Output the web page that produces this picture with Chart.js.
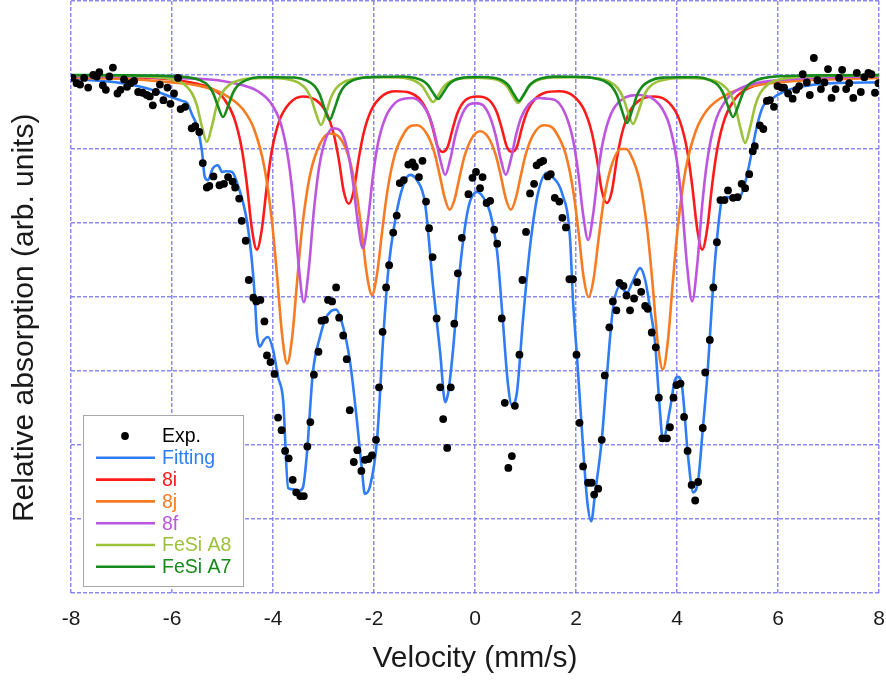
<!DOCTYPE html>
<html>
<head>
<meta charset="utf-8">
<script src="https://cdn.jsdelivr.net/npm/chart.js@4/dist/chart.umd.min.js"></script>
<style>
  html, body { margin: 0; padding: 0; background: #ffffff; }
  canvas { display: block; }
</style>
</head>
<body>
<canvas id="spectrum" width="886" height="682"></canvas>
<script>
// Mössbauer spectrum: velocity (mm/s) vs. relative absorption (%), with sub-spectra.
const velocityTicks = [-8, -6, -4, -2, 0, 2, 4, 6, 8];

// Measured spectrum [velocity, absorption]
const exp = [
  [-7.97,0.04],[-7.89,0.11],[-7.82,0.13],[-7.74,0.04],[-7.66,0.17],[-7.56,0.00],[-7.49,0.02],[-7.44,-0.04],[-7.37,0.14],[-7.31,0.20],
  [-7.24,0.02],[-7.17,-0.10],[-7.08,0.25],[-7.02,0.20],[-6.95,0.06],[-6.89,0.16],[-6.82,0.11],[-6.75,0.08],[-6.67,0.23],[-6.58,0.24],
  [-6.50,0.27],[-6.44,0.29],[-6.38,0.41],[-6.32,0.23],[-6.24,0.13],[-6.17,0.34],[-6.09,0.17],[-6.03,0.39],[-5.96,0.25],[-5.88,0.04],
  [-5.83,0.46],[-5.74,0.43],[-5.61,0.72],[-5.54,0.69],[-5.46,0.77],[-5.39,1.19],[-5.31,1.52],[-5.26,1.50],[-5.18,1.37],[-5.06,1.49],
  [-4.97,1.47],[-4.89,1.38],[-4.80,1.44],[-4.75,1.52],[-4.67,1.67],[-4.62,1.97],[-4.54,2.24],[-4.48,2.77],[-4.39,3.01],[-4.33,3.06],
  [-4.25,3.04],[-4.17,3.33],[-4.12,3.79],[-4.05,3.88],[-3.97,4.04],[-3.90,4.63],[-3.83,4.80],[-3.76,5.08],[-3.69,5.18],[-3.61,5.47],
  [-3.54,5.64],[-3.46,5.69],[-3.39,5.69],[-3.32,5.02],[-3.26,4.69],[-3.19,4.05],[-3.10,3.74],[-3.04,3.32],[-2.97,3.31],[-2.91,3.04],
  [-2.83,3.06],[-2.75,2.87],[-2.69,3.28],[-2.61,3.52],[-2.54,3.84],[-2.48,4.53],[-2.40,5.23],[-2.33,5.07],[-2.25,5.35],[-2.18,5.20],
  [-2.11,5.19],[-2.04,5.14],[-1.96,4.93],[-1.90,4.22],[-1.83,3.47],[-1.76,2.87],[-1.70,2.57],[-1.62,2.13],[-1.55,1.90],[-1.49,1.46],
  [-1.41,1.42],[-1.32,1.21],[-1.24,1.18],[-1.19,1.24],[-1.11,1.38],[-1.04,1.16],[-0.97,1.71],[-0.91,2.07],[-0.84,2.46],[-0.76,3.29],
  [-0.69,4.22],[-0.63,4.65],[-0.55,5.04],[-0.48,4.22],[-0.41,3.36],[-0.34,2.68],[-0.26,2.20],[-0.13,1.61],[-0.05,1.39],[0.02,1.31],
  [0.10,1.53],[0.15,1.38],[0.23,1.73],[0.30,1.70],[0.38,2.09],[0.44,2.28],[0.53,3.29],[0.59,4.43],[0.66,5.31],[0.73,5.15],
  [0.79,4.47],[0.88,3.78],[0.94,2.77],[1.01,2.12],[1.09,1.60],[1.17,1.47],[1.22,1.22],[1.29,1.18],[1.35,1.16],[1.44,1.37],
  [1.50,1.34],[1.58,1.66],[1.67,1.71],[1.73,1.93],[1.80,2.06],[1.87,2.76],[1.94,2.76],[2.01,3.78],[2.07,4.70],[2.14,5.29],
  [2.24,5.51],[2.31,5.51],[2.36,5.67],[2.44,5.59],[2.51,4.93],[2.57,4.06],[2.66,3.41],[2.73,3.06],[2.80,3.18],[2.86,2.81],
  [2.94,2.85],[3.00,2.98],[3.07,3.18],[3.15,3.02],[3.21,2.80],[3.29,2.93],[3.37,3.12],[3.42,3.16],[3.50,3.48],[3.58,3.68],
  [3.64,4.36],[3.71,4.91],[3.80,4.91],[3.86,4.76],[3.93,4.36],[3.99,4.19],[4.07,4.17],[4.14,4.62],[4.21,5.08],[4.29,5.54],
  [4.36,5.75],[4.42,5.50],[4.51,4.77],[4.56,4.02],[4.65,3.58],[4.72,2.87],[4.79,2.26],[4.86,1.69],[4.94,1.69],[5.01,1.56],
  [5.11,1.66],[5.20,1.65],[5.28,1.47],[5.35,1.53],[5.43,1.34],[5.50,1.03],[5.54,0.96],[5.64,0.68],[5.71,0.73],[5.78,0.35],
  [5.84,0.34],[5.92,0.43],[5.99,0.15],[6.07,0.17],[6.12,0.17],[6.20,0.25],[6.29,0.32],[6.36,0.20],[6.42,0.15],[6.49,-0.01],
  [6.57,0.10],[6.63,0.27],[6.71,-0.23],[6.78,0.07],[6.85,0.19],[6.92,0.10],[6.99,-0.08],[7.06,0.31],[7.14,0.19],[7.21,0.04],
  [7.27,-0.07],[7.35,0.19],[7.41,0.11],[7.49,0.31],[7.56,-0.03],[7.64,0.23],[7.71,0.03],[7.79,-0.03],[7.85,-0.01],[7.92,0.24],
  [7.99,0.11]
];

// Total fitted curve
const fitting = [
  [-8.00,0.05],[-6.99,0.11],[-6.50,0.18],[-6.00,0.30],[-5.80,0.35],[-5.70,0.38],[-5.60,0.54],[-5.50,0.70],[-5.41,1.01],[-5.35,1.38],
  [-5.29,1.42],[-5.19,1.26],[-5.09,1.22],[-5.01,1.31],[-4.91,1.30],[-4.81,1.31],[-4.69,1.50],[-4.59,1.73],[-4.51,2.00],[-4.42,2.50],
  [-4.36,3.00],[-4.32,3.48],[-4.26,3.67],[-4.18,3.58],[-4.10,3.54],[-4.00,3.71],[-3.90,4.08],[-3.80,4.39],[-3.70,5.58],[-3.60,5.60],
  [-3.52,5.63],[-3.41,5.58],[-3.33,5.13],[-3.21,4.02],[-3.07,3.54],[-2.97,3.31],[-2.85,3.19],[-2.75,3.17],[-2.65,3.31],[-2.48,3.85],
  [-2.34,4.66],[-2.24,5.33],[-2.18,5.66],[-2.08,5.56],[-1.94,4.93],[-1.82,3.58],[-1.72,2.66],[-1.58,1.96],[-1.43,1.51],[-1.29,1.35],
  [-1.15,1.42],[-0.99,1.73],[-0.83,2.86],[-0.69,3.75],[-0.59,4.42],[-0.53,4.29],[-0.44,3.75],[-0.30,2.63],[-0.14,1.82],[0.04,1.58],
  [0.16,1.65],[0.30,1.86],[0.44,2.40],[0.55,3.31],[0.65,4.16],[0.73,4.46],[0.83,4.29],[0.95,3.31],[1.09,2.32],[1.25,1.59],
  [1.43,1.32],[1.54,1.38],[1.72,1.59],[1.88,2.19],[1.94,3.04],[2.02,3.81],[2.12,4.83],[2.22,5.74],[2.30,6.03],[2.38,5.64],
  [2.51,4.93],[2.61,4.08],[2.73,3.17],[2.87,2.86],[3.01,2.94],[3.11,2.81],[3.27,2.61],[3.37,2.77],[3.47,3.17],[3.56,3.58],
  [3.66,4.52],[3.72,4.93],[3.86,4.52],[3.96,4.12],[4.02,4.08],[4.10,4.21],[4.22,5.16],[4.32,5.64],[4.42,5.47],[4.51,4.79],
  [4.61,3.98],[4.71,2.90],[4.81,2.09],[4.89,1.69],[4.99,1.65],[5.11,1.66],[5.21,1.69],[5.31,1.55],[5.41,1.28],[5.50,0.97],
  [5.58,0.70],[5.70,0.43],[5.84,0.34],[6.10,0.23],[6.44,0.16],[7.09,0.11],[8.00,0.10]
];

// Sub-spectrum 8i
const site8i = [
  [-8,0.02],[-7,0.03],[-6,0.06],[-5.5,0.12],[-5.2,0.19],[-4.97,0.32],[-4.77,0.58],[-4.62,0.99],[-4.52,1.46],[-4.42,2.07],
  [-4.32,2.36],[-4.22,2.08],[-4.12,1.49],[-4.02,1.01],[-3.87,0.61],[-3.67,0.38],[-3.41,0.29],[-3.15,0.34],[-2.95,0.50],[-2.80,0.79],
  [-2.70,1.13],[-2.60,1.57],[-2.50,1.74],[-2.40,1.56],[-2.30,1.12],[-2.20,0.77],[-2.05,0.47],[-1.85,0.29],[-1.57,0.22],[-1.29,0.24],
  [-1.09,0.33],[-0.94,0.50],[-0.84,0.71],[-0.74,0.97],[-0.64,1.04],[-0.54,0.97],[-0.44,0.72],[-0.34,0.50],[-0.19,0.34],[0.05,0.29],
  [0.28,0.34],[0.43,0.50],[0.53,0.72],[0.63,0.97],[0.73,1.04],[0.83,0.97],[0.93,0.71],[1.03,0.50],[1.18,0.33],[1.38,0.24],
  [1.67,0.22],[1.96,0.29],[2.16,0.47],[2.31,0.77],[2.41,1.12],[2.51,1.56],[2.61,1.73],[2.71,1.57],[2.81,1.13],[2.91,0.79],
  [3.06,0.50],[3.26,0.34],[3.56,0.29],[3.85,0.38],[4.05,0.61],[4.20,1.01],[4.30,1.49],[4.40,2.08],[4.50,2.36],[4.60,2.07],
  [4.70,1.46],[4.80,0.99],[4.95,0.58],[5.15,0.32],[5.38,0.19],[5.68,0.12],[6.18,0.06],[7,0.03],[8,0.02]
];

// Sub-spectrum 8j
const site8j = [
  [-8,0.04],[-7,0.05],[-6,0.10],[-5.5,0.14],[-5.0,0.25],[-4.6,0.46],[-4.37,0.74],[-4.17,1.25],[-4.02,1.98],[-3.92,2.71],
  [-3.82,3.51],[-3.72,3.90],[-3.62,3.54],[-3.52,2.77],[-3.42,2.05],[-3.27,1.36],[-3.07,0.93],[-2.88,0.79],[-2.69,0.84],[-2.49,1.13],
  [-2.34,1.62],[-2.24,2.13],[-2.14,2.70],[-2.04,2.97],[-1.94,2.69],[-1.84,2.12],[-1.74,1.59],[-1.59,1.08],[-1.39,0.77],[-1.27,0.69],
  [-1.15,0.68],[-0.95,0.80],[-0.80,1.06],[-0.70,1.35],[-0.60,1.66],[-0.50,1.82],[-0.40,1.67],[-0.30,1.36],[-0.20,1.08],[-0.05,0.84],
  [0.105,0.76],[0.26,0.84],[0.41,1.08],[0.51,1.36],[0.61,1.67],[0.71,1.82],[0.81,1.66],[0.91,1.35],[1.01,1.06],[1.16,0.80],
  [1.36,0.68],[1.48,0.69],[1.60,0.77],[1.80,1.08],[1.95,1.59],[2.05,2.12],[2.15,2.73],[2.25,3.00],[2.35,2.75],[2.45,2.20],
  [2.55,1.70],[2.70,1.23],[2.90,1.00],[2.985,1.00],[3.07,1.06],[3.27,1.46],[3.42,2.14],[3.52,2.85],[3.62,3.63],[3.72,3.98],
  [3.82,3.59],[3.92,2.78],[4.02,2.03],[4.17,1.28],[4.37,0.76],[4.60,0.47],[5.0,0.26],[5.5,0.15],[6.0,0.10],[7,0.06],[8,0.04]
];

// Sub-spectrum 8f
const site8f = [
  [-8,0.02],[-7,0.02],[-6,0.04],[-5.5,0.05],[-5.0,0.08],[-4.6,0.14],[-4.3,0.22],[-4.04,0.38],[-3.84,0.67],[-3.69,1.17],
  [-3.59,1.76],[-3.49,2.58],[-3.39,3.07],[-3.29,2.61],[-3.19,1.83],[-3.09,1.26],[-2.97,0.89],[-2.805,0.72],[-2.67,0.75],[-2.52,1.03],
  [-2.42,1.43],[-2.32,1.99],[-2.22,2.34],[-2.12,1.96],[-2.02,1.36],[-1.92,0.92],[-1.77,0.57],[-1.57,0.37],[-1.405,0.32],[-1.24,0.31],
  [-1.04,0.40],[-0.89,0.58],[-0.79,0.82],[-0.69,1.14],[-0.59,1.35],[-0.49,1.14],[-0.39,0.82],[-0.29,0.59],[-0.14,0.41],[0.01,0.38],
  [0.16,0.41],[0.31,0.59],[0.41,0.82],[0.51,1.14],[0.61,1.35],[0.71,1.14],[0.81,0.82],[0.91,0.58],[1.06,0.40],[1.26,0.31],
  [1.425,0.32],[1.59,0.34],[1.79,0.53],[1.94,0.87],[2.04,1.30],[2.14,1.88],[2.24,2.23],[2.34,1.88],[2.44,1.30],[2.54,0.88],
  [2.69,0.53],[2.89,0.34],[3.27,0.27],[3.65,0.40],[3.85,0.68],[4.00,1.17],[4.10,1.76],[4.20,2.58],[4.30,3.06],[4.40,2.57],
  [4.50,1.75],[4.60,1.15],[4.75,0.65],[4.95,0.36],[5.2,0.20],[5.5,0.12],[6.0,0.07],[7,0.03],[8,0.02]
];

// FeSi, A8 site
const fesiA8 = [
  [-8,0.004],[-7,0.010],[-6.5,0.020],[-6.01,0.057],[-5.76,0.124],[-5.61,0.240],[-5.51,0.405],[-5.41,0.691],[-5.31,0.905],[-5.21,0.691],
  [-5.11,0.405],[-5.01,0.246],[-4.86,0.130],[-4.61,0.062],[-4.18,0.039],[-3.75,0.054],[-3.50,0.103],[-3.35,0.186],[-3.25,0.308],[-3.15,0.516],
  [-3.05,0.675],[-2.95,0.516],[-2.85,0.302],[-2.75,0.180],[-2.60,0.097],[-2.35,0.047],[-1.94,0.030],[-1.53,0.032],[-1.28,0.057],[-1.13,0.103],
  [-1.03,0.163],[-0.93,0.278],[-0.83,0.365],[-0.73,0.278],[-0.63,0.167],[-0.53,0.103],[-0.38,0.058],[0.01,0.036],[0.40,0.058],[0.55,0.103],
  [0.65,0.167],[0.75,0.289],[0.85,0.378],[0.95,0.289],[1.05,0.169],[1.15,0.103],[1.30,0.058],[1.55,0.034],[1.99,0.030],[2.43,0.046],
  [2.68,0.097],[2.83,0.181],[2.93,0.302],[3.03,0.505],[3.13,0.662],[3.23,0.505],[3.33,0.302],[3.43,0.181],[3.58,0.101],[3.83,0.053],
  [4.24,0.039],[4.65,0.063],[4.90,0.132],[5.05,0.246],[5.15,0.410],[5.25,0.702],[5.35,0.918],[5.45,0.702],[5.55,0.410],[5.65,0.243],
  [5.80,0.127],[6.05,0.057],[6.5,0.022],[7,0.011],[8,0.005]
];

// FeSi, A7 site
const fesiA7 = [
  [-8,0.001],[-7,0.004],[-6.3,0.009],[-5.69,0.031],[-5.44,0.072],[-5.29,0.138],[-5.19,0.238],[-5.09,0.421],[-4.99,0.567],[-4.89,0.421],
  [-4.79,0.238],[-4.69,0.138],[-4.54,0.072],[-4.29,0.031],[-3.94,0.030],[-3.58,0.034],[-3.33,0.076],[-3.18,0.147],[-3.08,0.255],[-2.98,0.451],
  [-2.88,0.608],[-2.78,0.451],[-2.68,0.255],[-2.58,0.147],[-2.43,0.076],[-2.18,0.034],[-1.80,0.024],[-1.43,0.020],[-1.18,0.042],[-1.03,0.078],
  [-0.93,0.136],[-0.83,0.240],[-0.73,0.324],[-0.63,0.240],[-0.53,0.136],[-0.43,0.078],[-0.28,0.042],[0.07,0.028],[0.42,0.045],[0.57,0.085],
  [0.67,0.147],[0.77,0.261],[0.87,0.351],[0.97,0.261],[1.07,0.147],[1.17,0.085],[1.32,0.045],[1.57,0.022],[1.94,0.024],[2.31,0.036],
  [2.56,0.081],[2.71,0.158],[2.81,0.271],[2.91,0.482],[3.01,0.648],[3.11,0.482],[3.21,0.271],[3.31,0.158],[3.46,0.081],[3.71,0.036],
  [4.06,0.031],[4.41,0.031],[4.66,0.072],[4.81,0.138],[4.91,0.238],[5.01,0.421],[5.11,0.567],[5.21,0.421],[5.31,0.238],[5.41,0.138],
  [5.56,0.072],[5.81,0.031],[6.5,0.008],[7,0.005],[8,0.001]
];

const seriesLabels = ['Exp.', 'Fitting', '8i', '8j', '8f', 'FeSi A8', 'FeSi A7'];
const seriesColors = ['#000000', '#2f7df6', '#ff1a1a', '#f77b22', '#bd55de', '#9cc23c', '#178a1c'];
const seriesData = [exp, fitting, site8i, site8j, site8f, fesiA8, fesiA7];

const FONT = "'Liberation Sans', Arial, sans-serif";
const GRID = 'rgba(110, 110, 240, 0.8)';

const toPoints = rows => rows.map(([x, y]) => ({ x, y }));

// Datasets listed first are painted last (on top), so the measured points go first.
const drawOrder = [0, 6, 5, 4, 3, 2, 1];
const datasets = drawOrder.map(i => {
  const base = {
    label: seriesLabels[i],
    data: toPoints(seriesData[i]),
    borderColor: seriesColors[i],
    backgroundColor: seriesColors[i]
  };
  if (i === 0) {
    return Object.assign(base, { showLine: false, pointRadius: 3.9, pointBorderWidth: 0, pointHoverRadius: 3.9 });
  }
  return Object.assign(base, {
    showLine: true, pointRadius: 0, pointHoverRadius: 0,
    borderWidth: 2.6, cubicInterpolationMode: 'monotone', fill: false
  });
});

// Framed legend in the lower-left corner of the plot
const boxedLegend = {
  id: 'boxedLegend',
  afterDatasetsDraw(chart) {
    const { ctx, chartArea } = chart;
    const x0 = chartArea.left + 12, y0 = chartArea.bottom - 178, w = 160, h = 171;
    ctx.save();
    ctx.fillStyle = '#ffffff';
    ctx.fillRect(x0, y0, w, h);
    ctx.strokeStyle = '#a6a6a6';
    ctx.lineWidth = 1;
    ctx.strokeRect(x0 + 0.5, y0 + 0.5, w, h);
    ctx.font = '19.5px ' + FONT;
    ctx.textBaseline = 'middle';
    ctx.textAlign = 'left';
    seriesLabels.forEach((label, i) => {
      const y = y0 + 21 + i * 21.8;
      const color = seriesColors[i];
      if (i === 0) {
        ctx.fillStyle = color;
        ctx.beginPath();
        ctx.arc(x0 + 42, y, 3.9, 0, Math.PI * 2);
        ctx.fill();
      } else {
        ctx.strokeStyle = color;
        ctx.lineWidth = 2.6;
        ctx.beginPath();
        ctx.moveTo(x0 + 13, y);
        ctx.lineTo(x0 + 72, y);
        ctx.stroke();
      }
      ctx.fillStyle = color;
      ctx.fillText(label, x0 + 79, y + 1);
    });
    ctx.restore();
  }
};

new Chart(document.getElementById('spectrum'), {
  type: 'line',
  data: { datasets },
  options: {
    responsive: false,
    animation: false,
    devicePixelRatio: 1,
    layout: { autoPadding: false, padding: { top: 1, right: 7, left: 0, bottom: 0 } },
    plugins: { legend: { display: false }, tooltip: { enabled: false } },
    events: [],
    scales: {
      x: {
        type: 'linear',
        min: -8, max: 8,
        afterBuildTicks: s => { s.ticks = velocityTicks.map(v => ({ value: v })); },
        afterFit: s => { s.height = 89; s.paddingLeft = 0; s.paddingRight = 0; },
        ticks: {
          color: '#1a1a1a',
          font: { family: FONT, size: 21 },
          padding: 14,
          callback: v => String(v)
        },
        grid: { color: GRID, lineWidth: 1.5, drawTicks: false },
        border: { display: false, dash: [4, 2] },
        title: {
          display: true, text: 'Velocity (mm/s)', color: '#1a1a1a',
          font: { family: FONT, size: 30 }, padding: { top: 0, bottom: 5 }
        }
      },
      y: {
        type: 'linear',
        reverse: true,
        min: -1, max: 7,
        afterFit: s => { s.width = 71; s.paddingTop = 0; s.paddingBottom = 0; },
        ticks: { display: false, stepSize: 1 },
        grid: { color: GRID, lineWidth: 1.5, drawTicks: false },
        border: { display: false, dash: [4, 2] },
        title: {
          display: true,
          // trailing no-break spaces nudge the rotated title toward the lower end of the axis
          text: 'Relative absorption (arb. units)\u00a0\u00a0\u00a0\u00a0\u00a0',
          color: '#1a1a1a',
          font: { family: FONT, size: 30 }, padding: { top: 7, bottom: 0 }
        }
      }
    }
  },
  plugins: [boxedLegend]
});
</script>
</body>
</html>
